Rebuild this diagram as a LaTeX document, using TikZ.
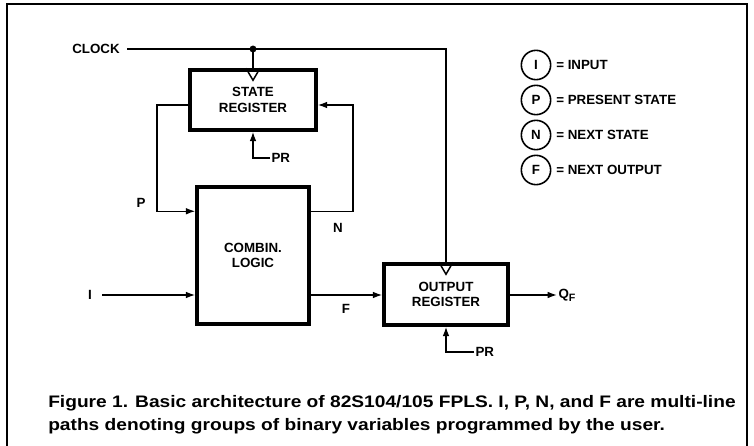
\documentclass[tikz,border=0pt]{standalone}
\usepackage{fontspec}
\setmainfont{Liberation Sans}
\usetikzlibrary{arrows.meta,calc}
\begin{document}
\begin{tikzpicture}[x=0.75pt,y=-0.75pt,
  lbl/.style={font=\fontsize{10}{11.5}\selectfont\bfseries, align=center, inner sep=1pt},
  box/.style={draw, line width=2.6pt, align=center, font=\fontsize{10}{11.5}\selectfont\bfseries},
  wire/.style={line width=1.1pt},
  arr/.style={wire, -{Latex[length=7pt,width=5pt]}},
  leg/.style={draw, circle, line width=1.2pt, minimum size=22pt, inner sep=0pt, font=\fontsize{10}{10}\selectfont\bfseries},
  legtxt/.style={anchor=west, inner sep=0pt, font=\fontsize{10}{10}\selectfont\bfseries}]
\useasboundingbox (0,0) rectangle (754,446);
\fill[white] (0,0) rectangle (754,446);
% frame
\draw[line width=1.3pt] (7,446) -- (7,4) -- (747,4) -- (747,446);
% boxes
\node[box, minimum width=94.5pt, minimum height=45pt] (sreg) at (253,100) {STATE\\REGISTER};
\node[box, minimum width=84pt, minimum height=102.75pt] (comb) at (253,255.5) {COMBIN.\\LOGIC};
\node[box, minimum width=93pt, minimum height=45.75pt] (oreg) at (446,294.5) {OUTPUT\\REGISTER};
% clock triangles
\draw[wire] ($(sreg.north)+(-7,0)$) -- ($(sreg.north)+(0,12)$) -- ($(sreg.north)+(7,0)$);
\draw[wire] ($(oreg.north)+(-7,0)$) -- ($(oreg.north)+(0,12)$) -- ($(oreg.north)+(7,0)$);
% labels
\node[lbl] (clk) at (96,49) {CLOCK};
\coordinate (clkdot) at (sreg.north |- clk);
\coordinate (clkcorner) at (oreg.north |- clk);
\draw[wire] (clk.east) ++(6,0) -- (clkcorner) -- (oreg.north);
\draw[wire] (clkdot) -- (sreg.north);
\fill (clkdot) circle (2.6pt);
% P feedback
\node[lbl] (plbl) at (141,203) {P};
\coordinate (pbend) at (157,105);
\draw[arr] ($(sreg.west)+(0,5)$) -- (pbend) |- ($(comb.north west)+(0,26)$);
% N feedback
\node[lbl] (nlbl) at (338,228) {N};
\coordinate (nbend) at (353,105);
\draw[arr] ($(comb.north east)+(0,26)$) -| (nbend) -- ($(sreg.east)+(0,5)$);
% I input
\node[lbl] (ilbl) at (90,295) {I};
\draw[arr] ($(ilbl.east)+(9,0)$) -- (comb.west |- ilbl);
% F
\node[lbl] (flbl) at (346,309) {F};
\draw[arr] (comb.east |- ilbl) -- (oreg.west |- ilbl);
% Q_F
\node[lbl, anchor=west] (qf) at (557,295) {Q\raisebox{-0.45ex}{\fontsize{8}{9}\selectfont F}};
\draw[arr] (oreg.east |- ilbl) -- (qf.west);
% PR
\node[lbl, anchor=west] (pr1) at (270,158) {PR};
\draw[arr] (pr1.west) -| (sreg.south);
\node[lbl, anchor=west] (pr2) at (474,352) {PR};
\draw[arr] (pr2.west) -| (oreg.south);
% legend
\node[leg] (li) at (536,65) {I};
\node[leg] (lp) at (536,100) {P};
\node[leg] (ln) at (536,135) {N};
\node[leg] (lf) at (536,170) {F};
\node[legtxt] (ti) at (556,65) {= INPUT};
\node[legtxt] (tp) at (556,100) {= PRESENT STATE};
\node[legtxt] (tn) at (556,135) {= NEXT STATE};
\node[legtxt] (tf) at (556,170) {= NEXT OUTPUT};
% caption
\node[anchor=west, align=left, inner sep=0pt] (cap) at (48,414)
 {\scalebox{1.15}[1]{\fontsize{12.5}{17.25}\selectfont\bfseries\begin{tabular}{@{}l@{}}Figure 1. Basic architecture of 82S104/105 FPLS. I, P, N, and F are multi-line\\[0pt]
  paths denoting groups of binary variables programmed by the user.\end{tabular}}};
\end{tikzpicture}
\end{document}
